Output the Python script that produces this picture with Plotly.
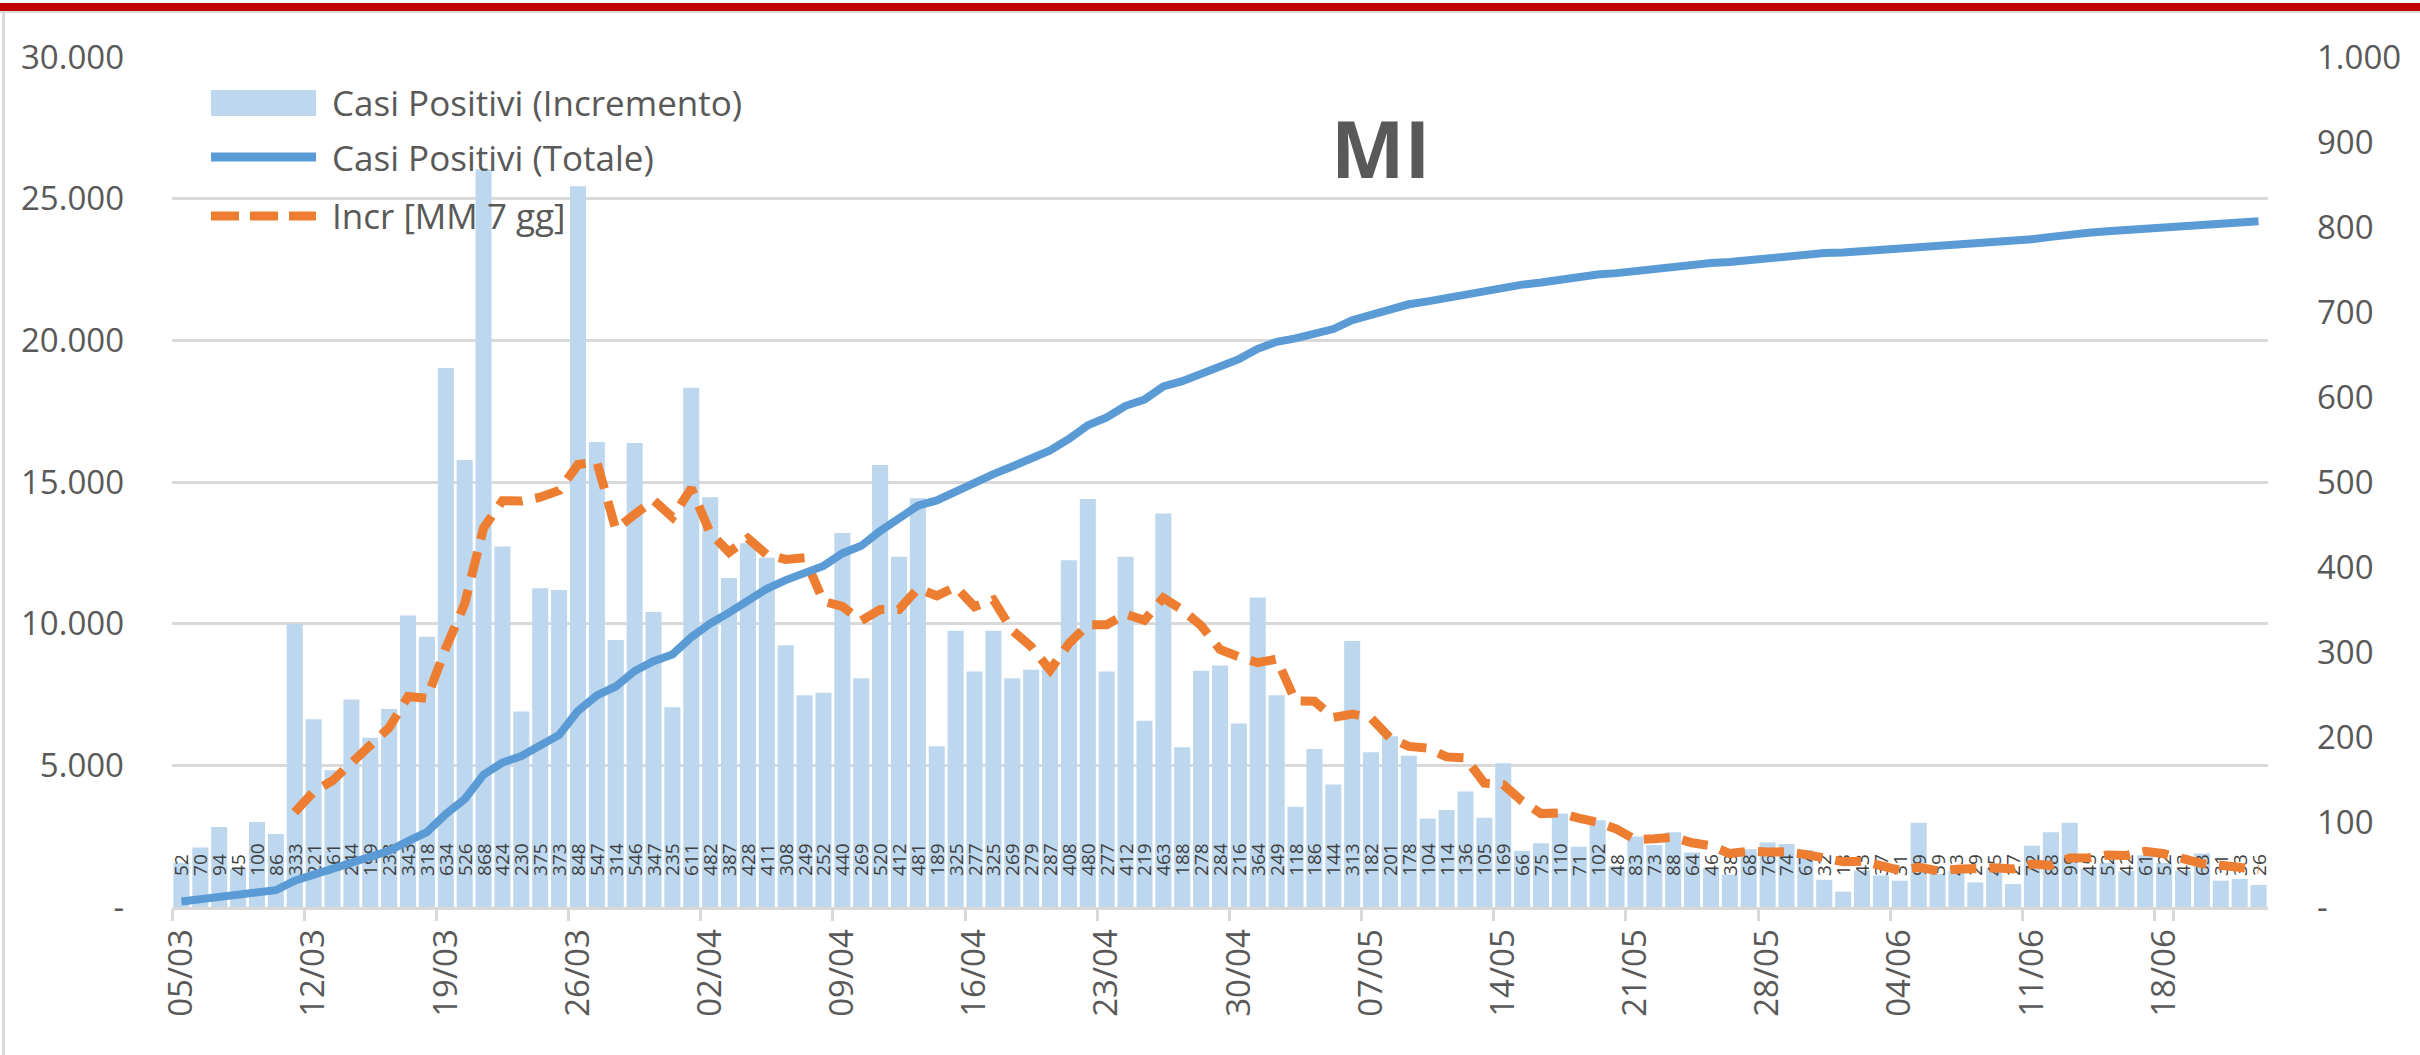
import plotly.graph_objects as go
import pandas as pd

# Daily increase of positive cases (Milan province), one value per day from 05/03
incremento = [52, 70, 94, 45, 100, 86, 333, 221, 161, 244,
              199, 233, 343, 318, 634, 526, 868, 424, 230, 375,
              373, 848, 547, 314, 546, 347, 235, 611, 482, 387,
              428, 411, 308, 249, 252, 440, 269, 520, 412, 481,
              189, 325, 277, 325, 269, 279, 287, 408, 480, 277,
              412, 219, 463, 188, 278, 284, 216, 364, 249, 118,
              186, 144, 313, 182, 201, 178, 104, 114, 136, 105,
              169, 66, 75, 110, 71, 102, 48, 83, 73, 88,
              64, 46, 38, 68, 76, 74, 67, 32, 18, 43,
              37, 31, 99, 39, 43, 29, 45, 27, 72, 88,
              99, 45, 52, 42, 61, 52, 43, 63, 31, 33, 26]

# Total positive cases
totale = [197, 267, 361, 406, 506, 592, 925, 1146, 1307, 1551,
          1750, 1983, 2326, 2644, 3278, 3804, 4672, 5096, 5326, 5701,
          6074, 6922, 7469, 7783, 8329, 8676, 8911, 9522, 10004, 10391,
          10819, 11230, 11538, 11787, 12039, 12479, 12748, 13268, 13680, 14161,
          14350, 14675, 14952, 15277, 15546, 15825, 16112, 16520, 17000, 17277,
          17689, 17908, 18371, 18559, 18837, 19121, 19337, 19701, 19950, 20068,
          20254, 20398, 20711, 20893, 21094, 21272, 21376, 21490, 21626, 21731,
          21900, 21966, 22041, 22151, 22222, 22324, 22372, 22455, 22528, 22616,
          22680, 22726, 22764, 22832, 22908, 22982, 23049, 23081, 23099, 23142,
          23179, 23210, 23309, 23348, 23391, 23420, 23465, 23492, 23564, 23652,
          23751, 23796, 23848, 23890, 23951, 24003, 24046, 24109, 24140, 24173, 24199]

# 7-day moving average of the daily increase
mm7 = [None, None, None, None, None, None, 111.4, 135.6, 148.6, 170.0,
       192.0, 211.0, 247.7, 245.6, 304.6, 356.7, 445.9, 478.0, 477.6, 482.1,
       490.0, 520.6, 523.6, 444.4, 461.9, 478.6, 458.6, 492.6, 440.3, 417.4,
       433.7, 414.4, 408.9, 410.9, 359.6, 353.6, 336.7, 349.9, 350.0, 374.7,
       366.1, 376.6, 353.3, 361.3, 325.4, 306.4, 278.7, 310.0, 332.1, 332.1,
       344.6, 337.4, 363.7, 349.6, 331.0, 303.0, 294.3, 287.4, 291.7, 242.4,
       242.1, 223.0, 227.1, 222.3, 199.0, 188.9, 186.9, 176.6, 175.4, 145.7,
       143.9, 124.6, 109.9, 110.7, 104.6, 99.7, 91.6, 79.3, 80.3, 82.1,
       75.6, 72.0, 62.9, 65.7, 64.7, 64.9, 61.9, 57.3, 53.3, 54.0,
       49.6, 43.1, 46.7, 42.7, 44.3, 45.9, 46.1, 44.7, 50.6, 49.0,
       57.6, 57.9, 61.1, 60.7, 65.6, 62.7, 56.3, 51.1, 49.1, 46.4, 44.1]

dates = pd.date_range("2020-03-05", periods=len(incremento), freq="D").strftime("%d/%m").tolist()
tick_dates = dates[::7]

left_ticks = [0, 5000, 10000, 15000, 20000, 25000, 30000]
left_labels = ["-", "5.000", "10.000", "15.000", "20.000", "25.000", "30.000"]
right_ticks = [0, 100, 200, 300, 400, 500, 600, 700, 800, 900, 1000]
right_labels = ["-", "100", "200", "300", "400", "500", "600", "700", "800", "900", "1.000"]

series_names = ["Casi Positivi (Incremento)", "Casi Positivi (Totale)", "Incr [MM 7 gg]"]
region_title = "MI"

# ---- styling / geometry ----
W, H = 2420, 1055
L, R, T, B = 172, 2268, 57, 907
FONT = "Open Sans"
GREY_TXT = "#595959"
GRID = "#D9D9D9"
BAR_C = "#BDD7EE"
LINE_C = "#5B9BD5"
MM_C = "#ED7D31"
LABEL_BASE = 33  # labels start a little above the axis (right-axis units)


def px2x(px):
    return (px - L) / (R - L)


def py2y(py):
    return (B - py) / (B - T)


fig = go.Figure()

fig.add_trace(go.Bar(
    x=dates, y=incremento, yaxis="y", name=series_names[0],
    marker=dict(color=BAR_C, line=dict(width=0)), showlegend=False))

# vertical value labels, carried by zero-height helper bars
fig.add_trace(go.Bar(
    x=dates, y=[0] * len(dates), base=LABEL_BASE, yaxis="y",
    text=[str(v) for v in incremento], textposition="outside", textangle=-90,
    constraintext="none", cliponaxis=False,
    outsidetextfont=dict(family=FONT, size=19, color="#404040"),
    marker=dict(color="rgba(0,0,0,0)", line=dict(width=0)),
    hoverinfo="skip", showlegend=False))

fig.add_trace(go.Scatter(
    x=dates, y=mm7, yaxis="y", mode="lines", name=series_names[2],
    line=dict(color=MM_C, width=9, dash="26px,13px"), showlegend=False))

fig.add_trace(go.Scatter(
    x=dates, y=totale, yaxis="y2", mode="lines", name=series_names[1],
    line=dict(color=LINE_C, width=8), showlegend=False))

tick_font = dict(family=FONT, size=33, color=GREY_TXT)

fig.update_layout(
    width=W, height=H, autosize=False,
    margin=dict(l=L, r=W - R, t=T, b=H - B, pad=0),
    paper_bgcolor="white", plot_bgcolor="white",
    barmode="overlay", bargap=0.15,
    uniformtext=dict(mode="show", minsize=19),
    showlegend=False,
    xaxis=dict(type="category", range=[-0.5, len(dates) - 0.5],
               tickmode="array", tickvals=tick_dates, ticktext=tick_dates,
               tickangle=-90, tickson="boundaries", ticks="outside",
               ticklen=11, tickwidth=3, tickcolor=GRID,
               showline=True, linecolor=GRID, linewidth=3,
               showgrid=False, zeroline=False, tickfont=tick_font,
               ticklabelstandoff=6),
    yaxis=dict(side="right", range=[0, 1000], tickmode="array",
               tickvals=right_ticks, ticktext=right_labels,
               showgrid=False, zeroline=False, showline=False, ticks="",
               ticklabelstandoff=48, tickfont=tick_font),
    yaxis2=dict(side="left", overlaying="y", range=[0, 30000], tickmode="array",
                tickvals=left_ticks, ticktext=left_labels,
                showgrid=True, gridcolor=GRID, gridwidth=2.5,
                zeroline=False, showline=False, ticks="",
                ticklabelstandoff=47, tickfont=tick_font),
)

shapes = []
# chart frame and red band on top
shapes.append(dict(type="rect", xref="paper", yref="paper",
                   x0=px2x(0), x1=px2x(W), y0=py2y(13), y1=py2y(11),
                   fillcolor=GRID, line=dict(width=0), layer="above"))
shapes.append(dict(type="rect", xref="paper", yref="paper",
                   x0=px2x(0), x1=px2x(W), y0=py2y(11), y1=py2y(3),
                   fillcolor="#C00000", line=dict(width=0), layer="above"))
shapes.append(dict(type="rect", xref="paper", yref="paper",
                   x0=px2x(2), x1=px2x(5), y0=py2y(H), y1=py2y(13),
                   fillcolor=GRID, line=dict(width=0), layer="above"))

# legend symbols
shapes.append(dict(type="rect", xref="paper", yref="paper",
                   x0=px2x(211), x1=px2x(316), y0=py2y(116), y1=py2y(90),
                   fillcolor=BAR_C, line=dict(width=0)))
shapes.append(dict(type="line", xref="paper", yref="paper",
                   x0=px2x(211), x1=px2x(316), y0=py2y(157), y1=py2y(157),
                   line=dict(color=LINE_C, width=9)))
for a, b in [(211, 239), (250, 278), (289, 316)]:
    shapes.append(dict(type="line", xref="paper", yref="paper",
                       x0=px2x(a), x1=px2x(b), y0=py2y(216), y1=py2y(216),
                       line=dict(color=MM_C, width=9)))

annotations = []
for name, yc in zip(series_names, [102, 157, 216]):
    annotations.append(dict(text=name, xref="paper", yref="paper",
                            x=px2x(330), y=py2y(yc), xanchor="left", yanchor="middle",
                            showarrow=False,
                            font=dict(family=FONT, size=35, color=GREY_TXT)))

annotations.append(dict(text=region_title, xref="paper", yref="paper",
                        x=px2x(1380), y=py2y(148), xanchor="center", yanchor="middle",
                        showarrow=False,
                        font=dict(family=FONT, size=78, color=GREY_TXT, weight="bold")))

fig.update_layout(shapes=shapes, annotations=annotations)

fig.write_html("out.html")
